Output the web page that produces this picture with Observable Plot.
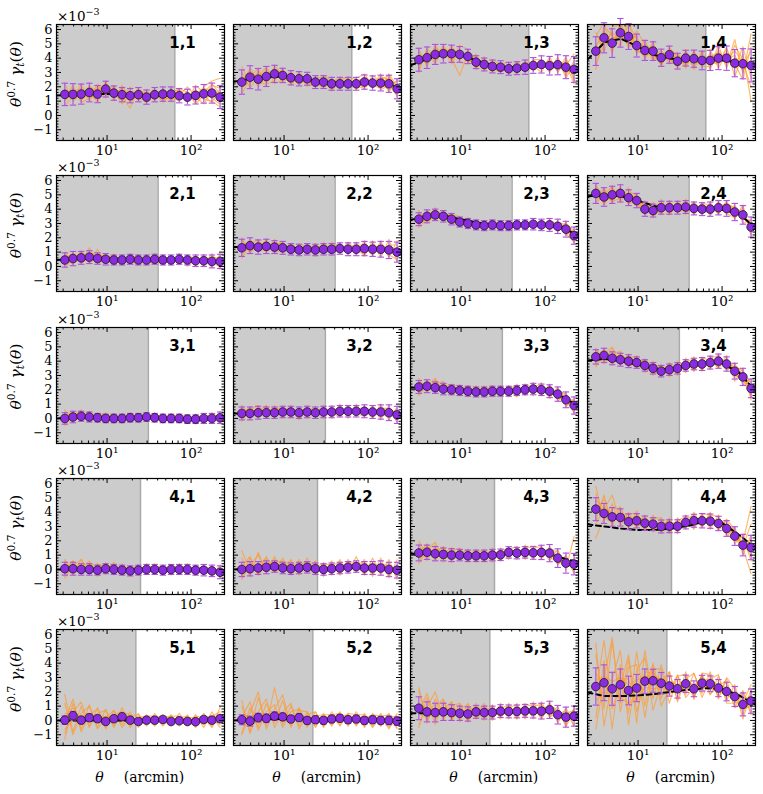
<!DOCTYPE html>
<html><head><meta charset="utf-8">
<script src="https://cdn.jsdelivr.net/npm/d3@7"></script>
<script src="https://cdn.jsdelivr.net/npm/@observablehq/plot@0.6"></script>
<style>
body{margin:0;background:#fff;}
#fig{position:relative;width:763px;height:794px;overflow:hidden;background:#fff;}
</style></head><body><div id="fig"></div>
<script>
// ---------------- data (values in units of 1e-3) ----------------
const theta = [3.14,3.93,4.92,6.15,7.70,9.63,12.05,15.08,18.85,23.6,29.5,36.9,46.2,57.8,72.3,90.5,113.2,141.6,177.1,221.6];
const modelTheta = [2.5,4,6.3,10,16,25,40,63,100,160,250];
const cutoffs = [64,40.5,31,25,22];
const xMajor = [10,100];
const xMinor = [3,4,5,6,7,8,9,20,30,40,50,60,70,80,90,200];
const yMajor = [-1,0,1,2,3,4,5,6];
const yTickLabels = ["−1","0","1","2","3","4","5","6"];
const xTickLabels = ["10¹","10²"];

const mean_11=[1.47,1.47,1.49,1.6,1.49,1.84,1.56,1.45,1.38,1.45,1.28,1.45,1.49,1.49,1.38,1.28,1.4,1.51,1.56,1.28];
const err_11=[0.78,0.75,0.7,0.65,0.6,0.55,0.5,0.5,0.5,0.5,0.5,0.5,0.5,0.5,0.5,0.55,0.6,0.65,0.7,0.8];
const model_11=[1.4,1.45,1.5,1.5,1.45,1.4,1.4,1.4,1.4,1.4,1.35];
const real_11=[[1.2,1.9,1.0,2.1,1.3,2.3,1.2,1.9,0.9,1.6,1.0,1.8,1.2,1.9,1.1,1.7,0.9,2.0,2.4,2.6],[1.8,1.1,1.7,1.3,2.0,1.5,2.1,1.0,1.7,1.2,1.6,1.1,1.8,1.2,1.7,0.9,1.8,1.1,1.0,0.6],[1.0,1.6,1.9,1.5,1.0,2.0,1.5,1.3,0.5,1.9,1.4,1.5,1.0,1.6,1.8,1.2,1.5,1.9,1.7,1.4],[1.6,1.3,1.4,2.0,1.7,1.6,1.9,1.5,1.6,1.1,1.2,1.7,1.6,1.3,1.0,1.5,1.1,1.3,2.1,1.9],[1.4,1.7,1.2,1.4,1.8,2.2,1.3,1.7,1.3,1.4,1.5,1.2,1.4,1.7,1.3,1.1,1.6,1.6,1.2,0.8],
[0.7,1.3,2.2,1.0,1.9,1.2,2.0,1.1,2.0,1.0,1.8,1.0,1.9,1.0,1.9,1.6,0.8,1.4,0.9,1.9],[2.2,1.0,1.5,1.9,0.9,2.4,1.0,2.1,1.2,1.9,0.8,1.7,1.3,1.1,1.4,2.0,1.3,0.8,1.7,1.1],[1.3,2.1,0.9,1.2,2.2,1.4,1.7,0.8,1.5,1.7,1.3,1.9,0.9,1.5,1.9,1.0,2.1,1.6,2.2,1.5]];

const mean_12=[2.33,2.67,2.53,2.72,2.9,2.79,2.63,2.56,2.56,2.33,2.33,2.21,2.21,2.21,2.21,2.33,2.26,2.26,2.21,1.86];
const err_12=[0.85,0.8,0.75,0.7,0.6,0.5,0.5,0.5,0.45,0.45,0.45,0.45,0.45,0.45,0.45,0.5,0.5,0.55,0.6,0.7];
const model_12=[2.35,2.55,2.7,2.7,2.55,2.4,2.3,2.25,2.25,2.2,1.95];
const real_12=[[3.4,2.2,3.1,2.4,3.3,2.6,2.9,2.1,2.8,2.0,2.6,1.9,2.4,2.0,2.6,2.9,2.1,2.7,2.5,1.3],[1.8,3.0,2.2,3.3,2.6,3.2,2.3,2.9,2.3,2.6,2.1,2.5,2.0,2.5,1.9,2.0,2.6,1.8,2.1,2.4],[2.6,2.4,2.9,2.5,3.1,2.3,2.8,2.5,2.7,2.1,2.4,2.3,2.6,2.3,2.4,2.6,1.9,2.5,2.8,1.6],[2.0,2.8,2.5,3.0,2.7,3.0,2.6,2.3,2.4,2.5,2.2,2.0,2.2,2.4,2.0,2.2,2.4,2.2,1.8,2.2],[2.5,3.1,2.0,2.8,2.9,2.6,2.4,2.7,2.5,2.3,2.5,2.2,2.3,1.9,2.3,2.5,2.3,2.0,2.3,1.8],
[1.5,2.6,3.3,2.2,2.4,3.3,2.1,3.1,2.0,2.7,2.6,1.7,2.6,2.6,1.8,2.5,2.0,2.9,1.6,2.5],[3.0,1.9,2.7,3.4,2.2,2.5,3.1,2.2,2.9,2.3,1.9,2.6,1.8,2.7,2.5,1.8,2.8,2.3,2.6,1.4],[2.2,3.3,2.4,2.1,3.5,2.8,2.2,2.6,2.2,2.0,2.8,2.4,2.5,2.1,2.2,2.7,2.1,1.9,2.9,2.0]];

const mean_13=[3.89,4.03,4.26,4.31,4.31,4.26,4.12,3.72,3.56,3.42,3.37,3.26,3.30,3.37,3.49,3.56,3.47,3.54,3.37,3.21];
const err_13=[0.8,0.75,0.7,0.65,0.6,0.55,0.5,0.45,0.45,0.45,0.45,0.45,0.45,0.5,0.55,0.6,0.65,0.7,0.8,0.9];
const model_13=[3.5,3.95,4.25,4.2,3.8,3.45,3.35,3.4,3.45,3.45,3.2];
const real_13=[[4.4,3.6,4.8,3.9,4.9,3.9,4.5,3.3,3.9,3.0,3.7,2.9,3.6,3.1,3.9,3.3,3.9,3.1,4.1,2.4],[3.3,4.5,3.8,4.7,3.6,4.6,3.7,4.1,3.2,3.8,3.1,3.6,3.0,3.7,3.2,3.9,3.2,3.9,2.8,3.8],[4.1,3.8,4.4,4.3,4.0,2.8,4.3,3.6,3.7,3.5,3.4,3.3,3.5,3.4,3.7,3.4,3.6,3.7,3.5,4.3],[3.6,4.2,4.1,4.5,4.6,4.4,3.9,3.9,3.4,3.2,3.6,3.4,3.2,3.2,3.4,3.8,3.3,3.3,3.7,2.9],[3.9,4.0,4.6,4.0,4.4,4.3,4.0,3.5,3.6,3.6,3.2,3.1,3.4,3.5,3.6,3.5,3.8,3.5,3.0,3.3],
[3.0,4.7,4.0,4.9,3.8,4.9,4.6,3.2,4.1,3.1,3.6,3.7,2.9,3.8,3.5,3.0,4.1,3.0,3.9,2.6],[4.6,3.4,4.9,4.1,4.7,3.7,3.6,4.3,3.1,3.9,3.5,2.9,3.8,3.1,3.9,3.9,3.0,4.1,2.6,3.6],[3.7,4.4,3.6,4.8,4.2,4.1,4.2,3.4,3.8,3.3,3.0,3.5,3.3,3.6,3.1,3.6,3.6,3.3,3.6,2.2]];

const mean_14=[4.49,5.42,5.05,5.77,5.51,4.88,4.54,4.49,4.03,4.24,3.79,4.0,3.96,3.84,3.84,4.0,4.0,3.65,3.61,3.49];
const err_14=[1.0,1.05,1.0,1.0,0.9,0.8,0.7,0.65,0.6,0.6,0.55,0.55,0.6,0.65,0.7,0.8,0.85,0.95,1.05,1.15];
const model_14=[3.9,5.1,5.35,4.8,4.2,3.95,3.9,3.9,3.85,3.7,3.45];
const real_14=[[5.5,6.5,4.3,6.6,5.0,5.6,3.9,5.2,3.4,4.8,3.2,4.6,3.3,4.5,3.2,4.6,3.5,5.3,2.9,5.7],[3.6,4.9,5.8,5.2,6.6,4.3,5.3,3.9,4.6,3.6,4.4,3.4,4.5,3.4,4.4,3.5,4.8,2.7,4.3,1.0],[4.8,5.9,4.6,6.4,4.8,5.1,4.7,4.8,3.8,4.2,3.9,4.2,3.7,4.0,4.1,4.4,3.9,4.2,3.1,3.9],[4.1,5.2,5.4,5.5,5.9,4.6,4.2,4.3,4.2,4.5,3.7,3.8,4.1,3.6,3.7,3.6,4.6,3.3,4.8,2.6],[4.9,5.6,4.9,6.0,5.4,5.2,4.8,4.1,4.0,3.9,4.0,4.1,3.9,3.9,3.8,4.2,3.7,3.9,3.5,4.5],
[3.2,6.2,5.6,4.8,6.4,5.3,4.0,4.9,3.6,4.4,4.3,3.3,4.5,3.4,3.4,4.9,3.3,4.9,3.9,3.2],[5.8,4.4,6.2,6.3,4.7,5.9,5.0,3.8,4.4,3.9,3.4,4.5,3.2,4.4,4.6,3.3,4.3,3.6,2.5,4.8],[4.4,5.3,5.2,5.9,5.6,4.4,4.5,4.6,3.5,4.7,4.1,3.6,4.2,3.9,3.5,4.1,3.9,4.5,3.7,2.0]];

const mean_21=[0.45,0.55,0.6,0.65,0.55,0.5,0.45,0.45,0.5,0.45,0.45,0.5,0.45,0.45,0.5,0.45,0.4,0.4,0.35,0.35];
const err_21=[0.5,0.5,0.45,0.45,0.4,0.4,0.35,0.35,0.35,0.35,0.35,0.35,0.35,0.35,0.35,0.35,0.4,0.4,0.45,0.5];
const model_21=[0.45,0.5,0.55,0.55,0.5,0.45,0.45,0.45,0.45,0.4,0.35];
const real_21=[[0.9,0.1,1.1,0.3,1.2,0.2,0.9,0.1,0.8,0.2,0.7,0.1,0.8,0.2,0.9,0.0,0.8,0.1,0.9,-0.2],[0.1,0.9,0.3,1.3,0.4,0.9,0.2,0.8,0.3,0.8,0.2,0.9,0.1,0.7,0.2,0.8,0.0,0.8,-0.1,0.9],[0.5,0.6,0.8,0.5,0.9,0.6,0.5,0.6,0.4,0.6,0.5,0.4,0.6,0.5,0.4,0.6,0.5,0.3,0.5,0.4],[0.3,0.4,0.5,0.9,0.3,0.4,0.7,0.3,0.6,0.3,0.4,0.6,0.4,0.3,0.6,0.4,0.3,0.5,0.2,0.6],[0.6,0.7,0.4,0.7,0.7,0.5,0.4,0.5,0.5,0.4,0.6,0.5,0.4,0.6,0.5,0.3,0.5,0.4,0.6,0.1],
[-0.1,0.6,1.0,0.2,0.8,0.7,0.1,0.7,0.5,0.1,0.8,0.3,0.2,0.7,0.1,0.7,0.6,0.0,0.7,0.5],[1.0,0.3,0.5,1.0,0.2,0.6,0.8,0.2,0.7,0.7,0.1,0.7,0.7,0.1,0.8,0.3,0.2,0.8,0.3,0.0],[0.4,1.0,0.2,0.6,0.6,0.2,0.6,0.5,0.2,0.5,0.6,0.2,0.5,0.5,0.6,0.2,0.5,0.6,0.0,0.7]];

const mean_22=[1.3,1.45,1.35,1.4,1.35,1.3,1.2,1.15,1.2,1.15,1.2,1.2,1.25,1.2,1.2,1.25,1.2,1.2,1.15,1.0];
const err_22=[0.6,0.55,0.5,0.5,0.45,0.45,0.4,0.4,0.4,0.4,0.4,0.4,0.4,0.45,0.45,0.5,0.5,0.55,0.6,0.7];
const model_22=[1.35,1.4,1.4,1.35,1.25,1.2,1.2,1.2,1.2,1.15,1.0];
const real_22=[[1.9,0.9,1.8,1.0,1.9,0.9,1.6,0.8,1.6,0.7,1.7,0.8,1.6,0.9,1.7,0.7,1.8,0.6,1.9,0.3],[0.8,1.8,1.0,1.9,1.0,1.7,0.8,1.6,0.8,1.6,0.8,1.7,0.9,1.6,0.8,1.8,0.7,1.8,0.6,1.8],[1.4,1.5,1.6,1.3,1.5,1.4,1.3,1.2,1.3,1.1,1.3,1.2,1.3,1.1,1.3,1.2,1.3,1.1,1.4,0.9],[1.2,1.2,1.3,1.6,1.1,1.3,1.0,1.3,1.1,1.3,1.0,1.4,1.1,1.3,1.0,1.4,1.0,1.5,0.9,1.3],[1.5,1.6,1.1,1.5,1.5,1.1,1.4,1.1,1.4,1.2,1.2,1.0,1.4,1.3,1.2,1.1,1.5,1.3,1.0,0.8],
[0.6,1.5,1.9,1.0,1.5,1.7,0.9,1.5,1.4,0.9,1.6,1.1,1.0,1.7,1.2,0.8,1.6,1.0,1.5,1.5],[2.0,1.0,1.4,1.8,0.9,1.2,1.6,1.0,1.1,1.6,0.9,1.4,1.6,0.9,1.5,1.5,1.0,1.5,0.8,0.5],[1.1,1.9,1.2,1.1,1.7,1.5,1.0,1.4,1.2,1.3,1.4,1.0,1.2,1.4,1.0,1.3,1.4,0.9,1.3,1.2]];

const mean_23=[3.3,3.5,3.6,3.5,3.3,3.1,3.0,2.9,2.85,2.9,2.85,2.85,2.9,2.9,2.95,2.9,2.9,2.8,2.6,2.15];
const err_23=[0.45,0.45,0.4,0.4,0.4,0.35,0.35,0.35,0.35,0.35,0.35,0.35,0.35,0.35,0.4,0.4,0.45,0.5,0.55,0.6];
const model_23=[3.25,3.5,3.55,3.3,3.05,2.9,2.9,2.9,2.9,2.75,2.1];
const real_23=[[3.8,3.1,4.0,3.2,3.7,2.8,3.4,2.6,3.2,2.6,3.2,2.5,3.2,2.6,3.3,2.6,3.3,2.4,3.1,1.6],[2.8,3.9,3.3,3.8,3.0,3.4,2.7,3.2,2.6,3.2,2.5,3.2,2.6,3.2,2.7,3.2,2.5,3.2,2.2,2.6],[3.4,3.6,3.7,3.4,3.5,3.2,3.1,3.0,2.9,2.9,3.0,2.8,3.0,2.9,3.0,2.9,3.0,2.9,2.7,2.3],[3.1,3.3,3.5,3.7,3.1,3.0,3.1,2.8,2.9,3.0,2.7,2.9,2.8,3.0,2.9,2.8,2.8,2.7,2.5,1.9],[3.5,3.4,3.8,3.3,3.4,3.2,2.9,3.0,2.8,2.8,2.9,2.9,2.9,2.8,2.8,3.0,3.1,2.8,2.8,2.4],
[2.7,3.4,4.1,3.1,3.6,3.5,2.6,3.2,3.0,2.6,3.2,2.7,2.7,3.2,2.6,3.2,2.9,2.5,3.0,2.5],[3.9,3.0,3.6,3.9,3.0,3.1,3.3,2.7,2.7,3.1,2.6,3.0,3.1,2.6,3.1,2.7,3.2,3.0,2.3,1.7],[3.2,3.8,3.2,3.6,3.6,2.9,3.0,3.1,2.9,2.8,3.1,2.7,2.9,3.1,2.8,3.0,2.6,3.1,2.9,2.0]];

const mean_24=[5.1,4.85,5.0,5.1,4.8,4.6,4.0,3.9,4.1,4.1,4.1,4.15,4.05,4.0,4.0,4.1,4.05,3.8,3.6,2.75];
const err_24=[0.7,0.65,0.6,0.6,0.55,0.5,0.5,0.45,0.45,0.45,0.45,0.45,0.45,0.45,0.5,0.5,0.55,0.6,0.65,0.7];
const model_24=[4.9,4.95,4.9,4.6,4.2,4.05,4.05,4.05,3.95,3.65,2.7];
const real_24=[[5.7,4.3,5.6,4.6,5.5,4.2,4.6,3.4,4.7,3.6,4.6,3.6,4.5,3.6,4.5,3.6,4.6,3.3,4.3,2.1],[4.5,5.5,4.4,5.6,4.3,5.1,3.6,4.5,3.6,4.6,3.7,4.7,3.6,4.5,3.5,4.6,3.6,4.3,3.0,3.3],[5.3,4.9,5.2,4.9,5.0,4.7,4.2,3.8,4.2,4.0,4.3,4.0,4.2,3.9,4.2,4.0,4.2,3.7,3.8,2.5],[4.8,4.6,4.8,5.3,4.6,4.4,3.8,4.1,3.9,4.3,3.9,4.2,3.9,4.2,3.8,4.3,3.9,3.9,3.4,3.0],[5.2,5.1,4.7,5.0,4.9,4.8,4.1,3.9,4.3,4.1,4.0,4.3,4.1,4.0,4.1,3.9,4.1,3.8,3.7,2.6],
[4.4,5.0,5.6,4.5,5.2,5.0,3.6,4.2,4.4,3.6,4.4,4.3,3.7,4.4,4.3,3.7,4.4,4.1,3.3,3.2],[5.8,4.3,5.1,5.4,4.4,4.5,4.4,3.5,4.0,4.5,3.8,4.0,4.5,3.8,3.8,4.4,3.7,3.4,4.1,2.3],[5.0,5.4,4.5,4.8,5.1,4.2,4.2,4.2,3.8,4.2,4.2,3.9,4.1,4.3,4.1,4.2,4.4,4.0,3.5,2.9]];

const mean_31=[0.0,0.1,0.15,0.1,0.05,0.0,0.0,0.0,0.05,0.05,0.1,0.05,0.0,0.0,0.0,-0.05,-0.05,0.0,0.0,0.05];
const err_31=[0.4,0.4,0.35,0.35,0.3,0.3,0.3,0.3,0.3,0.3,0.3,0.3,0.3,0.3,0.3,0.3,0.3,0.35,0.35,0.4];
const model_31=[0.0,0.05,0.05,0.05,0.05,0.05,0.0,0.0,0.0,0.0,0.0];
const real_31=[[0.5,-0.3,0.5,-0.2,0.4,-0.3,0.3,-0.2,0.4,-0.2,0.4,-0.2,0.3,-0.3,0.3,-0.3,0.3,-0.3,0.4,-0.4],[-0.4,0.4,-0.2,0.5,-0.3,0.4,-0.3,0.3,-0.2,0.3,-0.2,0.4,-0.3,0.3,-0.3,0.2,-0.4,0.3,-0.3,0.5],[0.1,0.2,0.3,0.0,0.2,0.1,0.1,0.0,0.1,0.1,0.2,0.0,0.1,0.0,0.1,0.0,0.0,0.1,0.0,0.2],[-0.2,0.0,0.1,0.3,-0.1,0.0,-0.1,0.1,0.0,0.2,0.0,0.1,-0.1,0.1,-0.1,0.0,-0.1,-0.1,0.1,-0.1],[0.2,0.1,0.0,0.2,0.1,-0.1,0.2,-0.1,0.2,0.0,0.1,0.1,0.0,-0.1,0.1,-0.1,0.1,0.0,-0.1,0.1],
[-0.5,0.2,0.6,-0.2,0.3,0.3,-0.3,0.2,0.2,-0.2,0.3,0.1,-0.2,0.3,0.1,-0.3,0.2,0.1,-0.2,0.3],[0.6,-0.1,0.2,0.5,-0.2,0.1,0.3,-0.3,0.1,0.3,-0.2,0.2,0.2,-0.2,0.2,0.2,-0.3,0.2,0.2,-0.3],[0.1,0.5,-0.1,0.2,0.3,-0.2,0.1,0.2,-0.1,0.1,0.2,-0.1,0.1,0.2,-0.2,0.1,0.1,-0.2,0.3,0.1]];

const mean_32=[0.35,0.35,0.4,0.4,0.4,0.45,0.45,0.4,0.45,0.4,0.45,0.45,0.5,0.5,0.5,0.5,0.45,0.45,0.4,0.25];
const err_32=[0.45,0.45,0.45,0.4,0.4,0.4,0.4,0.4,0.4,0.4,0.4,0.4,0.4,0.4,0.4,0.45,0.45,0.5,0.55,0.6];
const model_32=[0.35,0.35,0.4,0.4,0.4,0.45,0.45,0.5,0.5,0.4,0.25];
const real_32=[[0.9,-0.1,0.9,0.0,0.9,0.0,0.9,-0.1,0.9,0.0,0.9,0.0,1.0,0.0,1.0,0.1,0.9,-0.1,0.9,-0.3],[-0.1,0.8,0.0,0.9,0.0,0.9,0.0,0.8,0.0,0.8,0.0,0.9,0.1,0.9,0.1,0.9,0.0,1.0,-0.1,0.8],[0.4,0.5,0.6,0.3,0.5,0.5,0.6,0.4,0.5,0.5,0.5,0.4,0.6,0.5,0.6,0.4,0.5,0.5,0.6,0.3],[0.3,0.2,0.4,0.6,0.3,0.4,0.3,0.5,0.4,0.3,0.5,0.6,0.4,0.5,0.4,0.6,0.3,0.4,0.2,0.5],[0.5,0.4,0.2,0.5,0.6,0.3,0.5,0.3,0.6,0.4,0.4,0.5,0.6,0.4,0.5,0.5,0.6,0.3,0.4,0.1],
[-0.2,0.6,0.9,0.2,0.7,0.7,0.1,0.6,0.6,0.1,0.7,0.4,0.1,0.8,0.4,0.1,0.8,0.3,0.1,0.7],[0.9,0.2,0.5,0.9,0.1,0.5,0.8,0.1,0.5,0.8,0.2,0.5,0.8,0.2,0.6,0.8,0.1,0.7,0.7,-0.2],[0.3,0.8,0.2,0.4,0.8,0.2,0.5,0.6,0.3,0.4,0.7,0.3,0.5,0.6,0.4,0.5,0.6,0.2,0.6,0.4]];

const mean_33=[2.2,2.25,2.15,2.05,2.0,1.95,1.9,1.85,1.85,1.9,1.9,1.9,1.95,2.0,2.05,2.0,1.9,1.7,1.3,0.9];
const err_33=[0.45,0.45,0.4,0.4,0.35,0.35,0.35,0.35,0.35,0.35,0.35,0.35,0.35,0.35,0.4,0.4,0.45,0.5,0.55,0.6];
const model_33=[2.15,2.2,2.1,2.0,1.9,1.9,1.95,2.0,1.9,1.5,0.85];
const real_33=[[2.7,1.8,2.7,1.7,2.4,1.6,2.3,1.5,2.3,1.5,2.3,1.5,2.4,1.6,2.5,1.6,2.4,1.2,1.8,0.3],[1.7,2.7,1.8,2.5,1.6,2.4,1.5,2.3,1.5,2.3,1.5,2.3,1.6,2.4,1.6,2.5,1.4,2.2,0.8,1.4],[2.3,2.3,2.3,2.1,2.1,2.0,2.0,1.9,1.9,2.0,1.9,2.0,2.0,2.1,2.1,2.0,2.0,1.8,1.4,1.0],[2.1,2.1,2.0,2.3,1.9,1.9,1.8,2.0,1.8,1.8,2.0,1.8,1.9,1.9,2.0,2.1,1.8,1.6,1.2,0.6],[2.4,2.2,2.2,1.9,2.1,2.1,1.9,1.8,2.0,1.9,1.8,1.9,2.0,2.0,2.1,1.9,2.0,1.7,1.5,1.2],
[1.6,2.3,2.8,1.9,2.3,2.3,1.5,2.1,2.1,1.5,2.2,2.0,1.5,2.4,2.1,1.6,2.3,1.6,1.0,1.3],[2.8,2.0,2.4,2.6,1.7,2.0,2.3,1.6,1.9,2.3,1.6,2.1,2.3,1.7,2.3,2.3,1.6,1.9,1.7,0.4],[2.0,2.6,2.0,2.2,2.4,1.8,2.0,2.1,1.7,2.0,2.1,1.7,2.0,2.2,1.9,2.2,2.0,1.5,1.2,1.1]];

const mean_34=[4.3,4.4,4.2,4.1,4.0,3.9,3.7,3.5,3.3,3.4,3.5,3.7,3.8,3.8,3.9,4.0,3.8,3.3,2.9,2.1];
const err_34=[0.5,0.5,0.45,0.45,0.45,0.4,0.4,0.4,0.4,0.4,0.4,0.4,0.4,0.45,0.45,0.5,0.5,0.55,0.6,0.65];
const model_34=[4.05,4.15,4.0,3.75,3.45,3.45,3.7,3.85,3.85,3.2,1.9];
const real_34=[[4.9,3.8,4.9,3.7,4.5,3.5,4.2,3.0,3.8,3.0,4.0,3.2,4.3,3.3,4.4,3.5,4.4,2.6,3.5,1.3],[3.7,4.9,3.7,4.6,3.6,4.4,3.3,4.0,2.9,3.9,3.1,4.2,3.3,4.3,3.4,4.5,3.3,3.9,2.3,2.8],[4.4,4.5,4.3,4.2,4.1,4.0,3.8,3.6,3.4,3.5,3.6,3.8,3.9,3.9,4.0,4.1,3.9,3.4,3.0,2.2],[4.1,4.3,4.0,4.3,3.8,3.8,3.6,3.6,3.2,3.3,3.4,3.6,3.7,3.7,3.8,3.9,3.7,3.2,2.7,1.7],[4.5,4.2,4.4,4.0,4.2,4.0,3.8,3.4,3.5,3.4,3.5,3.7,3.8,3.9,3.9,4.0,3.9,3.5,3.1,2.5],
[3.6,4.5,5.0,3.8,4.3,4.3,3.2,3.8,3.6,2.9,3.8,3.9,3.3,4.2,4.1,3.5,4.2,3.1,2.6,2.6],[4.9,4.0,4.5,4.7,3.6,3.9,4.1,3.2,3.3,3.8,3.0,3.9,4.2,3.4,4.2,4.4,3.4,3.7,3.3,1.5],[4.2,4.8,4.0,4.2,4.3,3.7,3.8,3.7,3.1,3.5,3.7,3.5,3.8,4.0,3.7,4.0,4.0,3.0,2.8,2.0]];

const mean_41=[0.05,0.05,0.0,0.0,-0.05,0.05,0.0,-0.05,-0.1,-0.05,0.0,0.0,-0.05,0.0,0.0,0.0,-0.05,-0.05,-0.1,-0.2];
const err_41=[0.45,0.45,0.4,0.4,0.35,0.35,0.35,0.35,0.35,0.35,0.35,0.35,0.35,0.35,0.35,0.35,0.35,0.4,0.4,0.45];
const model_41=[0.0,0.0,0.0,0.0,0.0,0.0,0.0,-0.05,-0.05,-0.1,-0.15];
const real_41=[[0.6,-0.4,0.7,-0.4,0.4,-0.3,0.5,-0.4,0.3,-0.4,0.4,-0.3,0.3,-0.4,0.4,-0.3,0.3,-0.4,0.3,-0.6],[-0.5,0.6,-0.3,0.5,-0.5,0.5,-0.4,0.4,-0.5,0.3,-0.3,0.4,-0.4,0.3,-0.3,0.4,-0.4,0.3,-0.5,0.3],[0.2,0.1,0.2,-0.1,0.1,0.1,0.1,0.0,-0.1,0.0,0.1,0.0,0.0,0.1,0.0,0.1,0.0,0.0,-0.1,-0.1],[-0.1,0.0,-0.2,0.2,-0.2,0.0,-0.1,-0.1,-0.2,0.1,-0.1,0.1,-0.1,-0.1,0.1,-0.1,-0.1,-0.1,0.0,-0.3],[0.1,0.2,0.0,0.0,0.0,0.2,0.0,0.0,0.0,-0.1,0.0,-0.1,0.0,0.1,-0.1,0.0,0.0,-0.2,-0.2,-0.2],
[-0.6,0.2,0.7,-0.2,0.3,0.3,-0.3,0.2,0.1,-0.3,0.3,0.1,-0.3,0.3,0.1,-0.3,0.2,0.1,-0.4,0.1],[0.7,-0.2,0.1,0.6,-0.3,0.1,0.4,-0.3,0.0,0.3,-0.3,0.2,0.2,-0.3,0.2,0.2,-0.4,0.1,0.1,-0.5],[0.0,0.6,-0.3,0.2,0.4,-0.3,0.2,0.1,-0.3,0.1,0.2,-0.2,0.1,0.2,-0.2,0.1,0.1,-0.3,0.1,-0.1]];

const mean_42=[0.0,0.05,0.1,0.15,0.2,0.1,0.05,0.1,0.15,0.05,0.0,0.05,0.1,0.15,0.2,0.1,0.1,0.1,0.0,-0.05];
const err_42=[0.5,0.5,0.45,0.45,0.4,0.4,0.4,0.4,0.4,0.4,0.4,0.4,0.4,0.4,0.4,0.45,0.45,0.5,0.5,0.55];
const model_42=[0.0,0.05,0.1,0.1,0.1,0.05,0.05,0.1,0.1,0.05,-0.05];
const real_42=[[0.8,-0.5,1.2,-0.3,0.9,-0.3,0.7,-0.4,0.8,-0.4,0.5,-0.4,0.7,-0.3,0.9,-0.4,0.8,-0.4,0.7,-0.7],[-0.6,0.8,-0.4,0.9,-0.2,0.8,-0.4,0.7,-0.3,0.6,-0.5,0.6,-0.4,0.7,-0.2,0.7,-0.5,0.8,-0.6,0.7],[0.2,0.1,0.3,0.2,0.4,0.2,0.1,0.2,0.3,0.1,0.1,0.1,0.2,0.3,0.3,0.2,0.2,0.1,0.1,0.0],[-0.2,0.2,0.0,0.4,0.1,0.0,0.1,0.0,0.2,0.2,-0.1,0.1,0.0,0.1,0.3,0.0,0.0,0.2,-0.1,0.1],[0.1,0.0,0.2,0.0,0.3,0.2,0.0,0.2,0.0,0.0,0.1,0.0,0.2,0.2,0.1,0.1,0.2,0.0,0.1,-0.2],
[-0.7,0.3,1.0,-0.2,0.5,0.6,-0.3,0.4,0.5,-0.3,0.4,0.3,-0.3,0.5,0.5,-0.3,0.4,0.3,-0.4,0.3],[1.3,-0.1,0.3,0.8,-0.2,0.3,0.6,-0.3,0.3,0.5,-0.4,0.3,0.5,-0.2,0.4,0.5,-0.3,0.3,0.4,-0.5],[0.2,0.9,-0.4,0.3,0.7,-0.2,0.3,0.4,-0.2,0.2,0.4,-0.2,0.3,0.4,-0.1,0.2,0.4,-0.2,0.2,0.0]];

const mean_43=[1.15,1.2,1.1,1.05,1.0,1.0,0.95,0.95,0.95,1.0,1.02,1.19,1.14,1.19,1.16,1.19,1.14,0.79,0.44,0.37];
const err_43=[0.55,0.5,0.5,0.45,0.45,0.4,0.4,0.4,0.4,0.4,0.4,0.4,0.4,0.4,0.45,0.5,0.6,0.65,0.7,0.75];
const model_43=[1.1,1.1,1.05,1.0,0.95,1.0,1.1,1.15,1.15,0.8,0.5];
const real_43=[[1.8,0.6,1.7,0.5,1.5,0.6,1.4,0.5,1.4,0.5,1.5,0.7,1.6,0.7,1.6,0.7,1.6,0.3,1.0,-0.3],[0.5,1.7,0.6,1.6,0.5,1.5,0.5,1.4,0.5,1.5,0.6,1.6,0.7,1.7,0.7,1.6,0.6,1.4,0.0,2.3],[1.2,1.3,1.2,1.1,1.1,1.1,1.0,1.0,1.0,1.1,1.1,1.2,1.2,1.2,1.2,1.3,1.2,0.9,0.5,0.5],[1.0,1.1,1.0,1.2,0.9,0.9,0.9,1.1,0.9,0.9,1.0,1.3,1.1,1.2,1.1,1.1,1.1,0.7,0.3,0.1],[1.3,1.2,1.3,0.9,1.1,1.1,1.0,0.9,1.1,1.0,0.9,1.1,1.2,1.1,1.2,1.2,1.0,0.8,0.6,0.6],
[0.4,1.3,1.9,0.8,1.3,1.5,0.6,1.2,1.3,0.6,1.3,1.5,0.8,1.6,1.5,0.8,1.5,1.2,0.2,0.8],[2.0,1.0,1.2,1.6,0.7,1.1,1.4,0.6,1.0,1.4,0.6,1.4,1.6,0.8,1.5,1.6,0.8,0.6,0.9,-0.2],[1.1,1.8,0.8,1.1,1.5,0.8,1.1,1.3,0.8,1.1,1.3,1.0,1.2,1.5,1.0,1.3,1.4,0.4,0.6,0.2]];

const mean_44=[4.21,3.91,3.67,3.63,3.33,3.40,3.23,3.16,3.0,3.02,3.02,3.28,3.40,3.40,3.37,3.21,2.86,2.33,1.70,1.53];
const err_44=[0.8,0.7,0.65,0.6,0.55,0.5,0.5,0.45,0.45,0.45,0.45,0.45,0.45,0.5,0.5,0.5,0.55,0.65,0.75,0.85];
const model_44=[3.15,3.0,2.85,2.75,2.75,2.85,3.05,3.35,3.25,2.4,1.5];
const real_44=[[5.8,3.4,4.6,3.0,4.0,2.9,3.8,2.6,3.6,2.5,3.6,2.8,4.0,3.0,4.0,2.7,3.5,1.8,2.4,0.9],[3.4,5.2,3.0,4.4,2.8,4.1,2.7,3.8,2.5,3.6,2.5,3.8,2.9,3.9,2.8,3.8,2.3,3.0,1.0,2.4],[4.4,4.0,3.9,3.7,3.5,3.5,3.3,3.2,3.1,3.1,3.1,3.3,3.5,3.4,3.5,3.3,3.0,2.4,1.8,1.6],[2.2,3.6,3.3,3.9,3.1,3.2,3.0,3.3,2.9,2.9,3.0,3.2,3.3,3.5,3.2,3.2,2.7,2.2,1.5,-0.3],[4.8,4.3,4.0,3.4,3.6,3.6,3.4,3.0,3.1,3.1,2.9,3.4,3.4,3.3,3.5,3.1,3.0,2.5,1.9,4.4],
[3.2,4.2,5.2,3.3,3.9,3.9,2.7,3.6,3.6,2.6,3.4,3.7,2.8,3.9,3.8,2.8,3.5,2.8,1.3,2.2],[5.3,3.5,4.2,4.3,3.1,3.3,3.7,2.7,3.0,3.5,2.7,3.5,3.8,2.9,3.8,3.7,2.5,2.0,2.3,0.6],[3.9,4.9,3.4,3.8,3.9,3.0,3.3,3.4,2.8,3.2,3.3,3.0,3.4,3.7,3.1,3.5,3.2,2.7,1.6,3.2]];

const mean_51=[0.02,0.33,0.02,0.19,0.12,-0.07,0.12,0.26,0.02,-0.07,0.02,0.02,0.07,-0.07,-0.02,-0.07,-0.09,0.07,0.02,0.12];
const err_51=[0.3,0.3,0.25,0.25,0.25,0.2,0.2,0.2,0.2,0.2,0.2,0.2,0.2,0.2,0.2,0.2,0.2,0.2,0.2,0.25];
const model_51=[0.0,0.0,0.0,0.0,0.0,0.0,0.0,0.0,0.0,0.0,0.0];
const real_51=[[1.8,-0.8,1.0,-0.5,0.9,-0.6,0.7,-0.3,0.6,-0.5,0.4,-0.4,0.4,-0.4,0.5,-0.3,0.4,-0.5,0.6,-0.3],[-1.3,1.2,-0.6,1.1,-0.5,0.8,-0.4,0.9,-0.5,0.5,-0.4,0.5,-0.3,0.4,-0.4,0.4,-0.5,0.5,-0.4,0.9],[0.5,0.4,0.3,0.5,0.1,0.3,0.2,0.5,0.1,0.1,0.2,0.1,0.2,0.0,0.1,0.1,0.0,0.2,0.2,0.4],[-0.6,0.0,-0.2,0.0,0.4,-0.3,0.1,0.0,-0.2,-0.2,-0.1,0.0,-0.1,-0.2,-0.1,-0.2,-0.3,0.0,-0.2,-0.1],[0.3,0.9,0.0,0.3,-0.1,0.1,0.3,0.3,0.2,0.0,0.1,0.2,0.1,0.1,0.1,-0.1,0.1,0.1,0.1,0.3],
[-0.9,0.6,1.3,-0.4,0.5,0.7,-0.5,0.6,0.4,-0.4,0.3,0.3,-0.4,0.3,0.3,-0.4,0.3,0.2,-0.5,0.5],[1.2,-1.0,0.5,1.0,-0.6,0.2,0.7,-0.5,0.3,0.4,-0.3,0.2,0.3,-0.3,0.2,0.3,-0.4,0.2,0.3,-0.5],[0.0,1.5,-0.8,0.4,0.8,-0.5,0.4,0.6,-0.4,0.2,0.3,-0.3,0.2,0.3,-0.3,0.2,0.2,-0.3,0.3,0.6]];

const mean_52=[0.05,-0.05,0.2,0.15,0.3,0.25,0.1,0.2,0.0,0.05,0.0,0.1,0.15,0.05,0.1,0.0,0.05,0.0,0.0,-0.05];
const err_52=[0.35,0.35,0.3,0.3,0.3,0.25,0.25,0.25,0.25,0.25,0.25,0.25,0.25,0.25,0.25,0.25,0.25,0.25,0.3,0.3];
const model_52=[0.0,0.05,0.1,0.1,0.1,0.1,0.05,0.05,0.05,0.0,-0.05];
const real_52=[[1.0,-0.8,1.6,-0.4,2.3,-0.3,1.0,-0.4,0.6,-0.5,0.5,-0.4,0.6,-0.4,0.6,-0.5,0.5,-0.4,0.5,-0.6],[-0.9,0.9,-0.5,1.2,-0.2,1.4,-0.5,0.9,-0.5,0.6,-0.5,0.6,-0.3,0.5,-0.4,0.5,-0.4,0.5,-0.5,0.5],[0.3,0.2,0.5,0.3,0.6,0.5,0.3,0.4,0.2,0.2,0.1,0.3,0.3,0.2,0.3,0.1,0.2,0.1,0.1,0.1],[-0.3,-0.4,0.0,0.4,0.1,0.0,-0.1,0.2,-0.2,0.1,-0.1,0.0,0.1,-0.1,0.0,-0.1,-0.1,0.0,-0.2,-0.3],[0.4,0.3,-0.2,0.1,0.5,0.4,0.3,0.0,0.2,-0.1,0.2,0.2,0.1,0.1,0.2,0.2,0.1,-0.1,0.2,0.0],
[-1.0,0.5,2.0,-0.6,0.8,1.8,-0.4,0.7,0.6,-0.4,0.4,0.4,-0.4,0.5,0.4,-0.4,0.4,0.3,-0.6,0.4],[1.4,-0.9,0.6,1.5,-0.5,0.6,1.2,-0.6,0.4,0.6,-0.4,0.4,0.5,-0.3,0.4,0.4,-0.5,0.3,0.4,-0.5],[0.2,1.3,-0.7,0.6,1.1,-0.5,0.6,0.8,-0.4,0.3,0.4,-0.3,0.3,0.4,-0.3,0.2,0.3,-0.4,0.3,0.2]];

const mean_53=[0.85,0.6,0.55,0.6,0.55,0.5,0.45,0.6,0.55,0.55,0.65,0.63,0.63,0.67,0.67,0.65,0.74,0.40,0.23,0.30];
const err_53=[0.8,0.7,0.65,0.6,0.55,0.5,0.5,0.45,0.45,0.45,0.45,0.45,0.45,0.45,0.5,0.55,0.6,0.65,0.7,0.7];
const model_53=[0.5,0.5,0.5,0.5,0.5,0.55,0.6,0.6,0.6,0.4,0.25];
const real_53=[[2.1,-0.2,1.5,0.0,1.3,-0.1,1.2,0.1,1.2,0.0,1.2,0.1,1.2,0.1,1.3,0.1,1.3,-0.2,0.9,-0.4],[-0.5,1.6,-0.3,1.4,0.0,1.2,-0.1,1.2,0.0,1.1,0.1,1.2,0.1,1.2,0.1,1.3,0.2,1.0,-0.5,0.9],[1.0,0.7,0.8,0.7,0.7,0.6,0.6,0.7,0.6,0.6,0.7,0.7,0.7,0.8,0.7,0.7,0.8,0.5,0.3,0.4],[0.5,0.3,0.4,0.9,0.4,0.5,0.3,0.5,0.5,0.6,0.5,0.6,0.6,0.6,0.6,0.6,0.6,0.3,0.0,0.1],[1.2,0.8,0.5,0.4,0.7,0.4,0.5,0.6,0.5,0.4,0.7,0.5,0.6,0.7,0.7,0.6,0.9,0.5,0.4,0.6],
[-0.3,0.9,2.0,0.1,1.0,1.2,-0.1,0.8,1.0,0.1,0.9,1.0,0.1,1.1,1.0,0.1,1.1,0.7,-0.3,0.8],[2.3,0.0,0.9,1.5,0.0,0.8,1.1,0.1,0.6,1.0,0.2,0.9,1.1,0.2,1.0,1.1,0.3,0.4,0.7,-0.4],[0.6,1.9,0.1,0.8,1.3,0.1,0.8,0.9,0.2,0.6,0.9,0.3,0.7,1.0,0.4,0.8,1.0,0.0,0.5,0.7]];

const mean_54=[2.37,2.63,2.21,2.49,2.09,2.26,2.74,2.77,2.6,2.4,2.21,2.56,2.21,2.6,2.56,2.26,2.02,1.67,1.12,1.35];
const err_54=[1.3,1.25,1.15,1.1,1.0,0.95,0.85,0.8,0.75,0.7,0.65,0.6,0.55,0.55,0.55,0.6,0.65,0.7,0.8,0.85];
const model_54=[1.95,1.7,1.7,1.75,1.85,2.0,2.15,2.25,2.2,1.75,1.1];
const real_54=[[4.6,0.8,5.5,1.2,4.3,-0.2,4.9,1.5,3.9,1.7,3.2,1.8,3.3,1.9,3.4,1.6,2.9,0.9,2.0,0.4],[0.2,4.2,-0.6,3.9,0.5,4.8,1.0,4.0,1.5,3.4,1.4,3.4,1.5,3.3,1.8,3.1,1.4,2.5,0.4,2.2],[2.8,3.1,2.7,3.0,2.5,2.8,3.1,3.1,2.9,2.7,2.5,2.8,2.5,2.9,2.8,2.5,2.3,1.9,1.3,1.5],[1.4,2.0,1.7,1.6,1.2,1.5,2.3,2.2,2.3,2.0,2.0,2.3,1.9,2.4,2.3,2.0,1.8,1.4,0.8,1.0],[3.3,2.4,1.9,2.9,2.9,1.3,3.4,3.3,2.7,2.6,2.3,2.7,2.4,2.7,2.6,2.4,2.1,1.8,1.5,1.7],
[-0.6,2.9,5.8,0.6,3.7,3.9,0.2,3.6,3.6,1.2,3.1,3.2,1.5,3.3,3.2,1.5,3.0,2.2,0.1,1.9],[5.4,-0.4,2.8,4.9,-0.3,3.5,4.4,0.7,2.6,3.4,1.3,2.9,3.3,1.6,2.9,3.2,1.2,1.2,2.1,0.5],[1.8,5.6,0.8,2.4,4.6,0.6,2.6,3.8,1.0,2.2,3.1,1.6,2.3,3.1,1.8,2.6,2.6,0.9,1.3,2.5]];

// ---------------- assembly ----------------
const MEAN={"11":mean_11,"12":mean_12,"13":mean_13,"14":mean_14,"21":mean_21,"22":mean_22,"23":mean_23,"24":mean_24,"31":mean_31,"32":mean_32,"33":mean_33,"34":mean_34,"41":mean_41,"42":mean_42,"43":mean_43,"44":mean_44,"51":mean_51,"52":mean_52,"53":mean_53,"54":mean_54};
const ERR={"11":err_11,"12":err_12,"13":err_13,"14":err_14,"21":err_21,"22":err_22,"23":err_23,"24":err_24,"31":err_31,"32":err_32,"33":err_33,"34":err_34,"41":err_41,"42":err_42,"43":err_43,"44":err_44,"51":err_51,"52":err_52,"53":err_53,"54":err_54};
const MODEL={"11":model_11,"12":model_12,"13":model_13,"14":model_14,"21":model_21,"22":model_22,"23":model_23,"24":model_24,"31":model_31,"32":model_32,"33":model_33,"34":model_34,"41":model_41,"42":model_42,"43":model_43,"44":model_44,"51":model_51,"52":model_52,"53":model_53,"54":model_54};
const REAL={"11":real_11,"12":real_12,"13":real_13,"14":real_14,"21":real_21,"22":real_22,"23":real_23,"24":real_24,"31":real_31,"32":real_32,"33":real_33,"34":real_34,"41":real_41,"42":real_42,"43":real_43,"44":real_44,"51":real_51,"52":real_52,"53":real_53,"54":real_54};

const colLeft=[56,233,410,587], rowTop=[24,175.25,326.5,477.75,629];
const W=168, H=116;
const EB="#ae50e2";
const yMinor=d3.range(-16,63,2).map(v=>v/10).filter(v=>Math.abs(v-Math.round(v))>1e-6);
const cap={draw(ctx){ctx.moveTo(-3.2,0);ctx.lineTo(3.2,0);}};
const fig=document.getElementById("fig");

for(let r=0;r<5;r++){
  for(let c=0;c<4;c++){
    const key=`${r+1}${c+1}`;
    const mean=MEAN[key], err=ERR[key], model=MODEL[key], real=REAL[key];
    const pts=theta.map((t,i)=>({x:t,y:mean[i],lo:mean[i]-err[i],hi:mean[i]+err[i]}));
    const mod=modelTheta.map((t,i)=>({x:t,y:model[i]}));
    const lines=real.flatMap((s,j)=>s.map((v,i)=>({x:theta[i],y:v,k:j})));
    const marks=[
      Plot.rect([{a:2.5,b:cutoffs[r]}],{x1:"a",x2:"b",fill:"#cccccc"}),
      Plot.ruleX([cutoffs[r]],{x:d=>d,stroke:"#a9a9a9",strokeWidth:1.5}),
      Plot.line(lines,{x:"x",y:"y",z:"k",stroke:"#ff9a2e",strokeOpacity:0.68,strokeWidth:1.15,clip:true}),
      Plot.line(mod,{x:"x",y:"y",stroke:"black",strokeWidth:2,strokeDasharray:"5,3.5",clip:true}),
      Plot.ruleX(pts,{x:"x",y1:"lo",y2:"hi",stroke:EB,strokeWidth:1.1}),
      Plot.dot(pts,{x:"x",y:"lo",symbol:cap,fill:"none",stroke:EB,strokeWidth:1.1}),
      Plot.dot(pts,{x:"x",y:"hi",symbol:cap,fill:"none",stroke:EB,strokeWidth:1.1}),
      Plot.dot(pts,{x:"x",y:"y",r:4.3,fill:"#8a2be2",stroke:"#1a1a1a",strokeWidth:0.8}),
      // inward ticks on all four sides
      Plot.tickX(xMajor,{x:d=>d,insetTop:H-5,stroke:"black"}),
      Plot.tickX(xMajor,{x:d=>d,insetBottom:H-5,stroke:"black"}),
      Plot.tickX(xMinor,{x:d=>d,insetTop:H-2.5,stroke:"black"}),
      Plot.tickX(xMinor,{x:d=>d,insetBottom:H-2.5,stroke:"black"}),
      Plot.tickY(yMajor,{y:d=>d,insetRight:W-5,stroke:"black"}),
      Plot.tickY(yMajor,{y:d=>d,insetLeft:W-5,stroke:"black"}),
      Plot.tickY(yMinor,{y:d=>d,insetRight:W-2.5,stroke:"black"}),
      Plot.tickY(yMinor,{y:d=>d,insetLeft:W-2.5,stroke:"black"}),
      Plot.frame({stroke:"black",strokeWidth:1.2}),
      Plot.axisX({ticks:xMajor,tickSize:0,tickPadding:5,tickFormat:d=>xTickLabels[xMajor.indexOf(d)],fontSize:13.5,label:null}),
      Plot.text([`${r+1},${c+1}`],{frameAnchor:"top-left",dx:126,dy:19,text:d=>d,fontSize:15,fontWeight:"bold",fontFamily:"DejaVu Sans",textAnchor:"middle",lineAnchor:"middle",fill:"black"})
    ];
    if(c===0) marks.push(Plot.axisY({ticks:yMajor,tickSize:0,tickPadding:4,tickFormat:d=>yTickLabels[yMajor.indexOf(d)],fontSize:13,label:null}));
    const svg=Plot.plot({
      width:W,height:H,marginTop:0,marginRight:0,marginBottom:0,marginLeft:0,
      x:{type:"log",domain:[2.5,250],axis:null},
      y:{domain:[-1.75,6.35],axis:null},
      style:{overflow:"visible",background:"transparent",fontFamily:"DejaVu Serif",color:"black"},
      marks
    });
    svg.style.position="absolute";
    svg.style.left=colLeft[c]+"px";
    svg.style.top=rowTop[r]+"px";
    svg.style.maxWidth="none";
    fig.appendChild(svg);
  }
}

// ---------------- overlay text (axis labels, offset text) ----------------
const ov=d3.select(fig).append("svg").attr("width",763).attr("height",794)
  .style("position","absolute").style("left","0px").style("top","0px").style("pointer-events","none")
  .attr("font-family","DejaVu Serif");
rowTop.forEach(t=>{
  const off=ov.append("text").attr("x",57).attr("y",t-3).attr("font-size",13.5);
  off.append("tspan").text("×10");
  off.append("tspan").attr("font-size",9.5).attr("dy",-6).text("−3");
  const yl=ov.append("text").attr("text-anchor","middle").attr("font-size",15.5)
    .attr("transform",`translate(21,${t+H/2-8}) rotate(-90)`);
  yl.append("tspan").attr("font-style","italic").text("θ");
  yl.append("tspan").attr("font-size",10.5).attr("dy",-6).text("0.7");
  yl.append("tspan").attr("dy",6).attr("font-style","italic").text(" γ");
  yl.append("tspan").attr("font-size",10.5).attr("dy",3).attr("font-style","italic").text("t");
  yl.append("tspan").attr("dy",-3).text("(");
  yl.append("tspan").attr("font-style","italic").text("θ");
  yl.append("tspan").text(")");
});
colLeft.forEach(l=>{
  ov.append("text").attr("x",l+43.5).attr("y",782).attr("text-anchor","middle").attr("font-size",14).attr("font-style","italic").text("θ");
  ov.append("text").attr("x",l+98).attr("y",782).attr("text-anchor","middle").attr("font-size",14).text("(arcmin)");
});
</script></body></html>
